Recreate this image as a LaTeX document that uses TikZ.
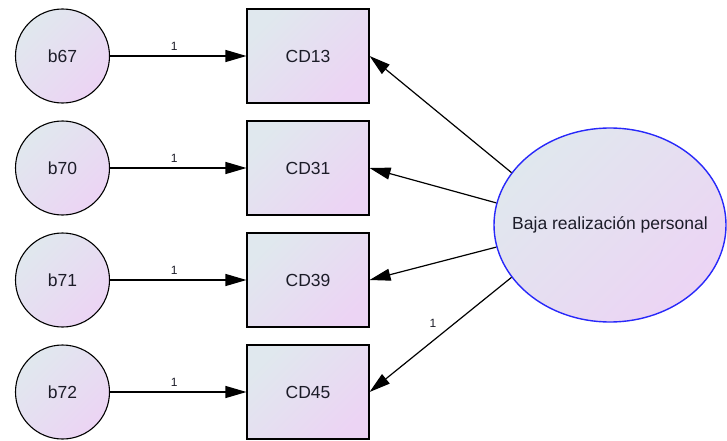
\documentclass[tikz,border=0pt]{standalone}
\usepackage{fontspec}
\setmainfont{Liberation Sans}
\usetikzlibrary{shapes.geometric,arrows.meta}
\definecolor{shA}{RGB}{224,232,238}
\definecolor{shB}{RGB}{236,212,244}
\definecolor{txt}{RGB}{28,28,40}
\definecolor{ellblue}{RGB}{40,40,250}
\tikzset{
  grad/.style={top color=shA, bottom color=shB, shading angle=45},
  errvar/.style={circle, draw=black, line width=1.1pt, grad, minimum size=94pt, inner sep=0pt, font=\fontsize{17.5}{20}\selectfont, text=txt},
  obsvar/.style={rectangle, draw=black, line width=1.1pt, grad, minimum width=122pt, minimum height=94pt, inner sep=0pt, font=\fontsize{17.5}{20}\selectfont, text=txt},
  latvar/.style={ellipse, draw=ellblue, line width=1.4pt, grad, minimum width=232pt, minimum height=194pt, inner sep=0pt},
  lattext/.style={font=\fontsize{17.5}{20}\selectfont, text=txt, inner sep=0pt},
  pathline/.style={line width=1.2pt, draw=black, -{Triangle[length=21pt,width=12pt]}},
  wlabel/.style={font=\fontsize{12}{14}\selectfont, text=txt, inner sep=1pt}
}
\begin{document}
\begin{tikzpicture}[x=1pt,y=-1pt]
\useasboundingbox (0,0) rectangle (727,441);
\node[errvar] (b67) at (62.5,56) {b67};
\node[errvar] (b70) at (62.5,168) {b70};
\node[errvar] (b71) at (62.5,280) {b71};
\node[errvar] (b72) at (62.5,392) {b72};
\node[obsvar] (cd13) at (308,56) {CD13};
\node[obsvar] (cd31) at (308,168) {CD31};
\node[obsvar] (cd39) at (308,280) {CD39};
\node[obsvar] (cd45) at (308,392) {CD45};
\node[latvar] (lat) at (610,225) {};
\node[lattext] (lattxt) at (lat.center) {Baja realización personal};
\draw[pathline] (b67) -- node[wlabel, pos=0.47, above=4pt] (l1) {1} (cd13);
\draw[pathline] (b70) -- node[wlabel, pos=0.47, above=4pt] (l2) {1} (cd31);
\draw[pathline] (b71) -- node[wlabel, pos=0.47, above=4pt] (l3) {1} (cd39);
\draw[pathline] (b72) -- node[wlabel, pos=0.47, above=4pt] (l4) {1} (cd45);
\draw[pathline] (lat.152) -- (cd13.east);
\draw[pathline] (lat.169) -- (cd31.east);
\draw[pathline] (lat.191) -- (cd39.east);
\draw[pathline] (lat.208) -- (cd45.east);
\node[wlabel] (l5) at (433,323) {1};
\end{tikzpicture}
\end{document}
